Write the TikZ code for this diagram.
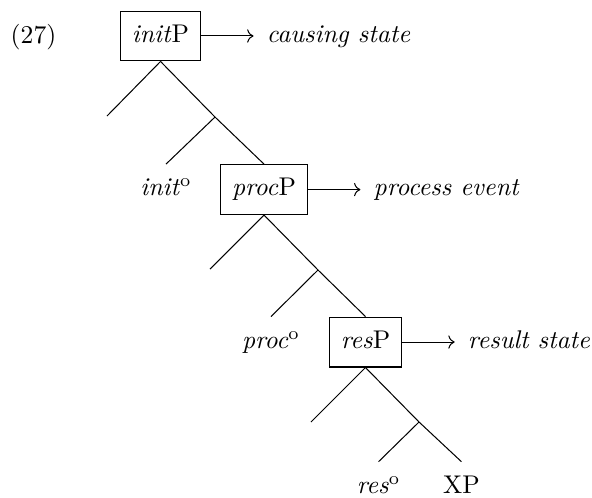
\documentclass[tikz,border=0pt]{standalone}
\usepackage{amsmath}
\usetikzlibrary{arrows.meta,positioning}
\tikzset{
  >={To},
  phrase/.style={draw, inner xsep=4.5pt, inner ysep=3.75pt,
    text height=8.5pt, text depth=3.5pt},
  head/.style={inner xsep=4.5pt, inner ysep=3.75pt,
    text height=8.5pt, text depth=3.5pt},
  gloss/.style={font=\itshape, inner xsep=5pt, inner ysep=3.75pt,
    text height=8.5pt, text depth=3.5pt},
  branch/.style={line width=.4pt},
  arr/.style={->, line width=.4pt}
}

\begin{document}
\begin{tikzpicture}[x=1cm,y=1cm]
\useasboundingbox (0,0) rectangle (8.128,6.824);

\node (exno) at (0.46,6.31) {(27)};

% ------------------------------------------------------------------
% initP
% ------------------------------------------------------------------
\node[phrase] (initP) at (2.204,6.330) {\textit{init}P};
\node[gloss, right=0.72cm of initP] (initGloss) {causing state};
\coordinate (initL) at (1.469,5.231);
\coordinate (initM) at (2.952,5.217);
\node[head] (initHead) at (2.279,4.221) {\textit{init}$^{\mathrm{o}}$};

\draw[arr] (initP) -- (initGloss);
\draw[branch] (initP.south) -- (initL);
\draw[branch] (initP.south) -- (initM);
\draw[branch] (initM) -- (initHead.north);

% ------------------------------------------------------------------
% procP
% ------------------------------------------------------------------
\node[phrase] (procP) at (3.625,4.221) {\textit{proc}P};
\node[gloss, right=0.72cm of procP] (procGloss) {process event};
\coordinate (procL) at (2.883,3.130);
\coordinate (procM) at (4.366,3.117);
\node[head] (procHead) at (3.721,2.128) {\textit{proc}$^{\mathrm{o}}$};

\draw[branch] (initM) -- (procP.north);
\draw[arr] (procP) -- (procGloss);
\draw[branch] (procP.south) -- (procL);
\draw[branch] (procP.south) -- (procM);
\draw[branch] (procM) -- (procHead.north);

% ------------------------------------------------------------------
% resP
% ------------------------------------------------------------------
\node[phrase] (resP) at (5.018,2.128) {\textit{res}P};
\node[gloss, right=0.72cm of resP] (resGloss) {result state};
\coordinate (resL) at (4.270,1.030);
\coordinate (resM) at (5.753,1.030);
\node[head] (resHead) at (5.197,0.135) {\textit{res}$^{\mathrm{o}}$};
\node[head] (xp) at (6.336,0.135) {XP};

\draw[branch] (procM) -- (resP.north);
\draw[arr] (resP) -- (resGloss);
\draw[branch] (resP.south) -- (resL);
\draw[branch] (resP.south) -- (resM);
\draw[branch] (resM) -- (resHead.north);
\draw[branch] (resM) -- (xp.north);

\end{tikzpicture}
\end{document}
